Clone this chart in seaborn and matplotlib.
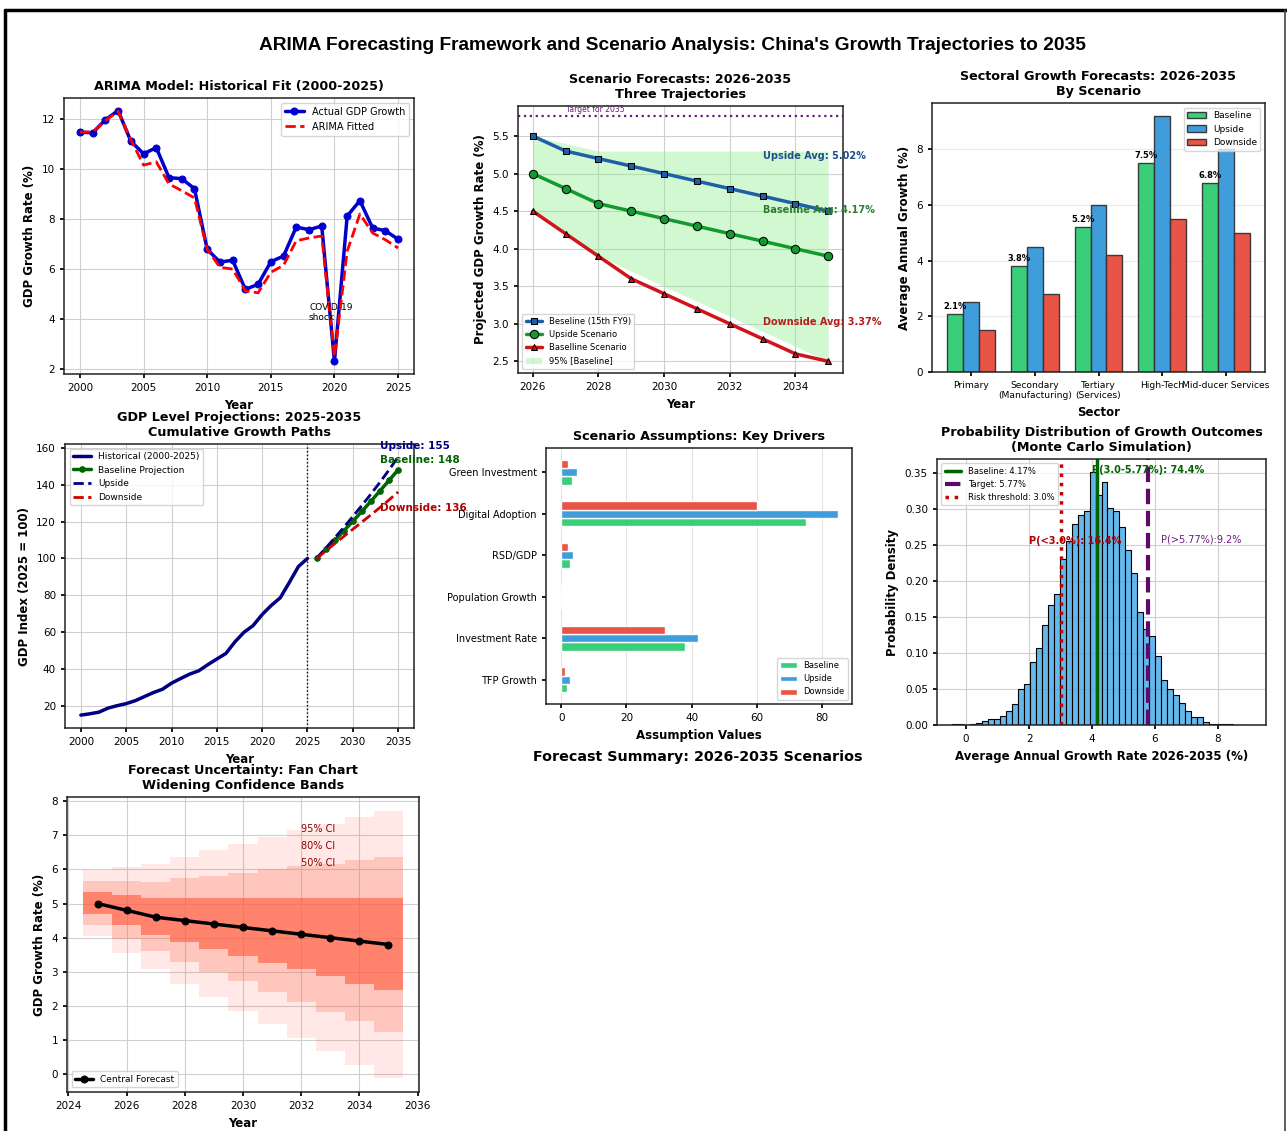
import numpy as np
import pandas as pd
import matplotlib
matplotlib.use("Agg")
import matplotlib.pyplot as plt
import seaborn as sns

# ---------------- data ----------------
hist_years = list(range(2000, 2026))
actual_growth = [11.47, 11.44, 11.96, 12.33, 11.11, 10.60, 10.85, 9.65, 9.61, 9.21,
                 6.79, 6.28, 6.35, 5.19, 5.39, 6.29, 6.52, 7.68, 7.57, 7.72,
                 2.31, 8.12, 8.73, 7.64, 7.53, 7.19]
arima_fitted = [11.47, 11.47, 11.93, 12.30, 11.17, 10.15, 10.28, 9.40, 9.13, 8.84,
                6.79, 6.07, 6.00, 5.13, 5.05, 5.87, 6.15, 7.13, 7.24, 7.32,
                2.50, 6.71, 8.20, 7.44, 7.17, 6.84]

scen_years = list(range(2026, 2036))
scen_top = [5.5, 5.3, 5.2, 5.1, 5.0, 4.9, 4.8, 4.7, 4.6, 4.5]
scen_mid = [5.0, 4.8, 4.6, 4.5, 4.4, 4.3, 4.2, 4.1, 4.0, 3.9]
scen_low = [4.5, 4.2, 3.9, 3.6, 3.4, 3.2, 3.0, 2.8, 2.6, 2.5]
band_upper = [5.5, 5.4, 5.3, 5.3, 5.3, 5.3, 5.3, 5.3, 5.3, 5.3]
band_lower = [4.5, 4.2, 3.9, 3.7, 3.5, 3.3, 3.1, 2.9, 2.7, 2.5]
target_2035 = 5.77

sectors = ["Primary", "Secondary\n(Manufacturing)", "Tertiary\n(Services)",
           "High-Tech", "Mid-ducer Services"]
sector_baseline = [2.1, 3.8, 5.2, 7.5, 6.8]
sector_upside = [2.5, 4.5, 6.0, 9.2, 8.0]
sector_downside = [1.5, 2.8, 4.2, 5.5, 5.0]

gdp_index_hist = [15.1, 15.8, 16.7, 18.9, 20.2, 21.3, 22.9, 25.1, 27.3, 29.1,
                  32.4, 34.9, 37.3, 39.1, 42.4, 45.5, 48.5, 54.8, 60.0, 63.6,
                  69.6, 74.5, 78.7, 87.0, 95.6, 100.0]
gdp_index_base = [100.0, 104.9, 109.8, 114.9, 120.1, 125.5, 131.0, 136.6, 142.3, 148.0]
gdp_index_up = [100.0, 105.5, 111.1, 116.8, 122.7, 128.7, 134.9, 141.3, 148.0, 155.0]
gdp_index_down = [100.0, 104.0, 108.0, 111.9, 115.8, 119.7, 123.6, 127.6, 131.7, 136.0]

drivers = ["TFP Growth", "Investment Rate", "Population Growth", "RSD/GDP",
           "Digital Adoption", "Green Investment"]
driver_baseline = [1.8, 38.0, -0.2, 2.8, 75.0, 3.4]
driver_upside = [2.6, 42.0, -0.1, 3.5, 85.0, 4.9]
driver_downside = [1.3, 32.0, -0.4, 2.1, 60.0, 2.0]

mc_density = [0.001, 0.002, 0.000, 0.002, 0.003, 0.005, 0.009, 0.009, 0.013, 0.019,
              0.029, 0.050, 0.057, 0.087, 0.107, 0.139, 0.167, 0.182, 0.230, 0.255,
              0.279, 0.292, 0.298, 0.352, 0.320, 0.337, 0.301, 0.298, 0.275, 0.243,
              0.211, 0.157, 0.133, 0.123, 0.096, 0.063, 0.050, 0.041, 0.031, 0.019,
              0.011, 0.011, 0.004, 0.002, 0.001, 0.001, 0.001, 0.000, 0.000, 0.0005]
mc_range = (-0.45, 9.05)
mc_baseline = 4.17
mc_risk = 3.0

fan_years = list(range(2025, 2036))
fan_central = [5.0, 4.8, 4.6, 4.5, 4.4, 4.3, 4.2, 4.1, 4.0, 3.9, 3.8]
ci50_lo = [4.69, 4.37, 4.08, 3.86, 3.67, 3.47, 3.25, 3.07, 2.88, 2.65, 2.47]
ci50_hi = [5.34, 5.24, 5.15, 5.15, 5.15, 5.15, 5.15, 5.15, 5.15, 5.15, 5.15]
ci80_lo = [4.37, 3.95, 3.60, 3.30, 3.00, 2.72, 2.42, 2.13, 1.83, 1.55, 1.25]
ci80_hi = [5.65, 5.65, 5.62, 5.75, 5.80, 5.90, 6.00, 6.10, 6.17, 6.27, 6.37]
ci95_lo = [4.05, 3.55, 3.08, 2.65, 2.25, 1.85, 1.47, 1.07, 0.67, 0.28, -0.12]
ci95_hi = [5.97, 6.07, 6.17, 6.37, 6.57, 6.75, 6.95, 7.15, 7.33, 7.52, 7.72]

# ---------------- style ----------------
sns.set_theme(style="whitegrid", rc={
    "axes.edgecolor": "#222222",
    "axes.linewidth": 1.1,
    "grid.color": "#cfcfcf",
    "grid.linewidth": 0.8,
    "xtick.bottom": True,
    "ytick.left": True,
    "xtick.color": "black",
    "ytick.color": "black",
    "text.color": "black",
    "axes.labelcolor": "black",
    "xtick.major.size": 3,
    "ytick.major.size": 3,
    "xtick.labelsize": 7.5,
    "ytick.labelsize": 7.5,
    "axes.titlesize": 9.2,
    "axes.titleweight": "bold",
    "axes.labelsize": 8.5,
    "axes.labelweight": "bold",
    "legend.fontsize": 6.5,
    "legend.frameon": True,
})
plt.rcParams["font.family"] = ["DejaVu Sans"]

W, H = 1287, 1131
fig = plt.figure(figsize=(W / 100, H / 100), dpi=100)


def box(l, r, t, b):
    return [l / W, 1 - b / H, (r - l) / W, (b - t) / H]


# outer frame
fig.add_artist(plt.Line2D([5 / W, 5 / W], [0, 1 - 10 / H], transform=fig.transFigure,
                          color="black", lw=2.5))
fig.add_artist(plt.Line2D([5 / W, 1], [1 - 10 / H, 1 - 10 / H], transform=fig.transFigure,
                          color="black", lw=2.5))
fig.add_artist(plt.Line2D([1285 / W, 1285 / W], [0, 1 - 10 / H], transform=fig.transFigure,
                          color="#444444", lw=1.2))

fig.text(672 / W, 1 - 45 / H,
         "ARIMA Forecasting Framework and Scenario Analysis: China's Growth Trajectories to 2035",
         ha="center", va="center", fontsize=13.8, fontweight="bold",
         family=["Liberation Sans", "DejaVu Sans"])

GREEN, BLUE, RED = "#2ecc71", "#3498db", "#e74c3c"

# ---------- 1: ARIMA fit ----------
ax1 = fig.add_axes(box(64, 414, 98, 374))
df1 = pd.DataFrame({"Year": hist_years, "Actual": actual_growth, "Fitted": arima_fitted})
sns.lineplot(data=df1, x="Year", y="Actual", ax=ax1, color="mediumblue", lw=2.5,
             marker="o", markersize=5, markeredgecolor="mediumblue",
             label="Actual GDP Growth")
sns.lineplot(data=df1, x="Year", y="Fitted", ax=ax1, color="red", lw=2,
             linestyle="--", label="ARIMA Fitted")
ax1.set_xticks([2000, 2005, 2010, 2015, 2020, 2025])
ax1.set_title("ARIMA Model: Historical Fit (2000-2025)")
ax1.set_xlabel("Year")
ax1.set_ylabel("GDP Growth Rate (%)")
ax1.text(2018.0, 4.27, "COVID-19\nshock", fontsize=6.5, ha="left", va="center")
ax1.legend(loc="upper right", fontsize=7)

# ---------- 2: scenario forecasts ----------
ax2 = fig.add_axes(box(518, 843, 106, 373))
ax2.fill_between(scen_years, band_lower, band_upper, color="#90ee90", alpha=0.4,
                 lw=0, label="95% [Baseline]")
df2 = pd.DataFrame({"Year": scen_years, "a": scen_top, "b": scen_mid, "c": scen_low})
sns.lineplot(data=df2, x="Year", y="a", ax=ax2, color="#1f5fa8", lw=2.5, marker="s",
             markersize=5, markeredgecolor="black", label="Beseline (15th FY9)")
sns.lineplot(data=df2, x="Year", y="b", ax=ax2, color="#139a2e", lw=2.5, marker="o",
             markersize=6, markeredgecolor="black", label="Upside Scenario")
sns.lineplot(data=df2, x="Year", y="c", ax=ax2, color="#d0141b", lw=2.5, marker="^",
             markersize=5, markeredgecolor="black", label="Baselline Scenario")
ax2.axhline(target_2035, color="#6a1b7a", linestyle=":", lw=1.6)
ax2.text(2027.0, 5.80, "Target for 2035", fontsize=5.5, color="#6a1b7a", va="bottom")
ax2.text(2033.0, 5.24, "Upside Avg: 5.02%", fontsize=7, color="#1f4e8c",
         fontweight="bold", va="center")
ax2.text(2033.0, 4.52, "Baseline Avg: 4.17%", fontsize=7, color="#2e7d32",
         fontweight="bold", va="center")
ax2.text(2033.0, 3.02, "Downside Avg: 3.37%", fontsize=7, color="#b71c1c",
         fontweight="bold", va="center")
ax2.set_ylim(2.345, 5.9)
ax2.set_xticks([2026, 2028, 2030, 2032, 2034])
ax2.set_title("Scenario Forecasts: 2026-2035\nThree Trajectories")
ax2.set_xlabel("Year")
ax2.set_ylabel("Projected GDP Growth Rate (%)")
h, l = ax2.get_legend_handles_labels()
order = [l.index(x) for x in ["Beseline (15th FY9)", "Upside Scenario",
                              "Baselline Scenario", "95% [Baseline]"]]
ax2.legend([h[i] for i in order], [l[i] for i in order], loc="lower left", fontsize=6)

# ---------- 3: sectoral ----------
ax3 = fig.add_axes(box(932, 1265, 103, 372))
df3 = pd.DataFrame({
    "Sector": sectors * 3,
    "Growth": sector_baseline + sector_upside + sector_downside,
    "Scenario": ["Baseline"] * 5 + ["Upside"] * 5 + ["Downside"] * 5,
})
sns.barplot(data=df3, x="Sector", y="Growth", hue="Scenario", ax=ax3,
            palette=[GREEN, BLUE, RED], edgecolor="#333333", linewidth=1.0,
            width=0.75, alpha=0.95, errorbar=None, saturation=1)
for bar, v in zip(ax3.containers[0], sector_baseline):
    ax3.text(bar.get_x() + bar.get_width() / 2, v + 0.1, f"{v:.1f}%", ha="center",
             va="bottom", fontsize=6, fontweight="bold")
ax3.set_xlim(-0.6125, 4.6125)
ax3.tick_params(axis="x", labelsize=6.6)
ax3.grid(False)
ax3.grid(axis="y", alpha=0.4)
ax3.set_title("Sectoral Growth Forecasts: 2026-2035\nBy Scenario")
ax3.set_xlabel("Sector")
ax3.set_ylabel("Average Annual Growth (%)")
ax3.legend(loc="upper right", fontsize=6.5)

# ---------- 4: GDP level ----------
ax4 = fig.add_axes(box(65, 414, 444, 728))
sns.lineplot(x=hist_years, y=gdp_index_hist, ax=ax4, color="navy", lw=2.5,
             label="Historical (2000-2025)")
sns.lineplot(x=scen_years, y=gdp_index_base, ax=ax4, color="darkgreen", lw=2.5,
             marker="o", markersize=4, markeredgecolor="darkgreen",
             label="Baseline Projection")
sns.lineplot(x=scen_years, y=gdp_index_up, ax=ax4, color="navy", lw=2,
             linestyle="--", label="Upside")
sns.lineplot(x=scen_years, y=gdp_index_down, ax=ax4, color="#cc0000", lw=2,
             linestyle="--", label="Downside")
ax4.axvline(2025, color="black", linestyle=":", lw=1)
ax4.text(2033.0, 161, f"Upside: {gdp_index_up[-1]:.0f}", color="navy", fontsize=7.5,
         fontweight="bold", va="center")
ax4.text(2033.0, 153.5, f"Baseline: {gdp_index_base[-1]:.0f}", color="darkgreen",
         fontsize=7.5, fontweight="bold", va="center")
ax4.text(2033.0, 127.5, f"Downside: {gdp_index_down[-1]:.0f}", color="#b00000",
         fontsize=7.5, fontweight="bold", va="center")
ax4.set_xticks([2000, 2005, 2010, 2015, 2020, 2025, 2030, 2035])
ax4.set_title("GDP Level Projections: 2025-2035\nCumulative Growth Paths")
ax4.set_xlabel("Year")
ax4.set_ylabel("GDP Index (2025 = 100)")
ax4.legend(loc="upper left", fontsize=6.5)

# ---------- 5: assumptions ----------
ax5 = fig.add_axes(box(546, 852, 448, 704))
ypos = np.arange(len(drivers))
ax5.barh(ypos - 0.2, driver_baseline, 0.2, color=GREEN, alpha=0.95, label="Baseline")
ax5.barh(ypos, driver_upside, 0.2, color=BLUE, alpha=0.95, label="Upside")
ax5.barh(ypos + 0.2, driver_downside, 0.2, color=RED, alpha=0.95, label="Downside")
ax5.set_yticks(ypos)
ax5.set_yticklabels(drivers, fontsize=7)
ax5.grid(False)
ax5.grid(axis="x", alpha=0.6)
ax5.set_xticks([0, 20, 40, 60, 80])
ax5.set_title("Scenario Assumptions: Key Drivers")
ax5.set_xlabel("Assumption Values")
ax5.legend(loc="lower right", fontsize=6)

fig.text(698 / W, 1 - 757 / H, "Forecast Summary: 2026-2035 Scenarios", ha="center",
         va="center", fontsize=10.3, fontweight="bold")

# ---------- 6: Monte Carlo ----------
ax6 = fig.add_axes(box(937, 1266, 459, 725))
n_bins = len(mc_density)
bin_w = (mc_range[1] - mc_range[0]) / n_bins
df6 = pd.DataFrame({
    "rate": [mc_range[0] + bin_w * (i + 0.5) for i in range(n_bins)],
    "density": mc_density,
})
sns.histplot(data=df6, x="rate", weights="density", bins=n_bins, binrange=mc_range,
             ax=ax6, stat="count", color="#3ea6e6", alpha=0.8, edgecolor="black",
             linewidth=0.8)
ax6.axvline(mc_baseline, color="darkgreen", lw=2.5, label=f"Baseline: {mc_baseline}%")
ax6.axvline(target_2035, color="#5e0a68", lw=3, linestyle="--",
            label=f"Target: {target_2035}%")
ax6.axvline(mc_risk, color="#cc0000", lw=2.5, linestyle=":",
            label=f"Risk threshold: {mc_risk}%")
ax6.text(2.0, 0.255, "P(<3.0%): 16.4%", color="#b00000", fontsize=7,
         fontweight="bold", va="center")
ax6.text(4.0, 0.355, "P(3.0-5.77%): 74.4%", color="darkgreen", fontsize=7,
         fontweight="bold", va="center")
ax6.text(6.2, 0.258, "P(>5.77%):9.2%", color="#6a1b7a", fontsize=7, va="center")
ax6.set_xticks([0, 2, 4, 6, 8])
ax6.set_title("Probability Distribution of Growth Outcomes\n(Monte Carlo Simulation)")
ax6.set_xlabel("Average Annual Growth Rate 2026-2035 (%)")
ax6.set_ylabel("Probability Density")
ax6.legend(loc="upper left", fontsize=6)

# ---------- 7: fan chart ----------
ax7 = fig.add_axes(box(67, 419, 797, 1092))
fy = np.array(fan_years)
ax7.bar(fy, np.array(ci95_hi) - np.array(ci95_lo), bottom=ci95_lo, width=1.0,
        color="tomato", alpha=0.14, lw=0)
ax7.bar(fy, np.array(ci80_hi) - np.array(ci80_lo), bottom=ci80_lo, width=1.0,
        color="tomato", alpha=0.25, lw=0)
ax7.bar(fy, np.array(ci50_hi) - np.array(ci50_lo), bottom=ci50_lo, width=1.0,
        color="tomato", alpha=0.68, lw=0)
sns.lineplot(x=fan_years, y=fan_central, ax=ax7, color="black", lw=2.5, marker="o",
             markersize=5, markeredgecolor="black", label="Central Forecast")
ax7.text(2032, 7.1, "95% CI", color="darkred", fontsize=7)
ax7.text(2032, 6.6, "80% CI", color="darkred", fontsize=7)
ax7.text(2032, 6.1, "50% CI", color="darkred", fontsize=7)
ax7.set_xlim(2023.95, 2036.05)
ax7.set_ylim(-0.52, 8.12)
ax7.set_xticks([2024, 2026, 2028, 2030, 2032, 2034, 2036])
ax7.set_title("Forecast Uncertainty: Fan Chart\nWidening Confidence Bands")
ax7.set_xlabel("Year")
ax7.set_ylabel("GDP Growth Rate (%)")
ax7.legend(loc="lower left", fontsize=6.5)

fig.savefig("out.png", dpi=100)
